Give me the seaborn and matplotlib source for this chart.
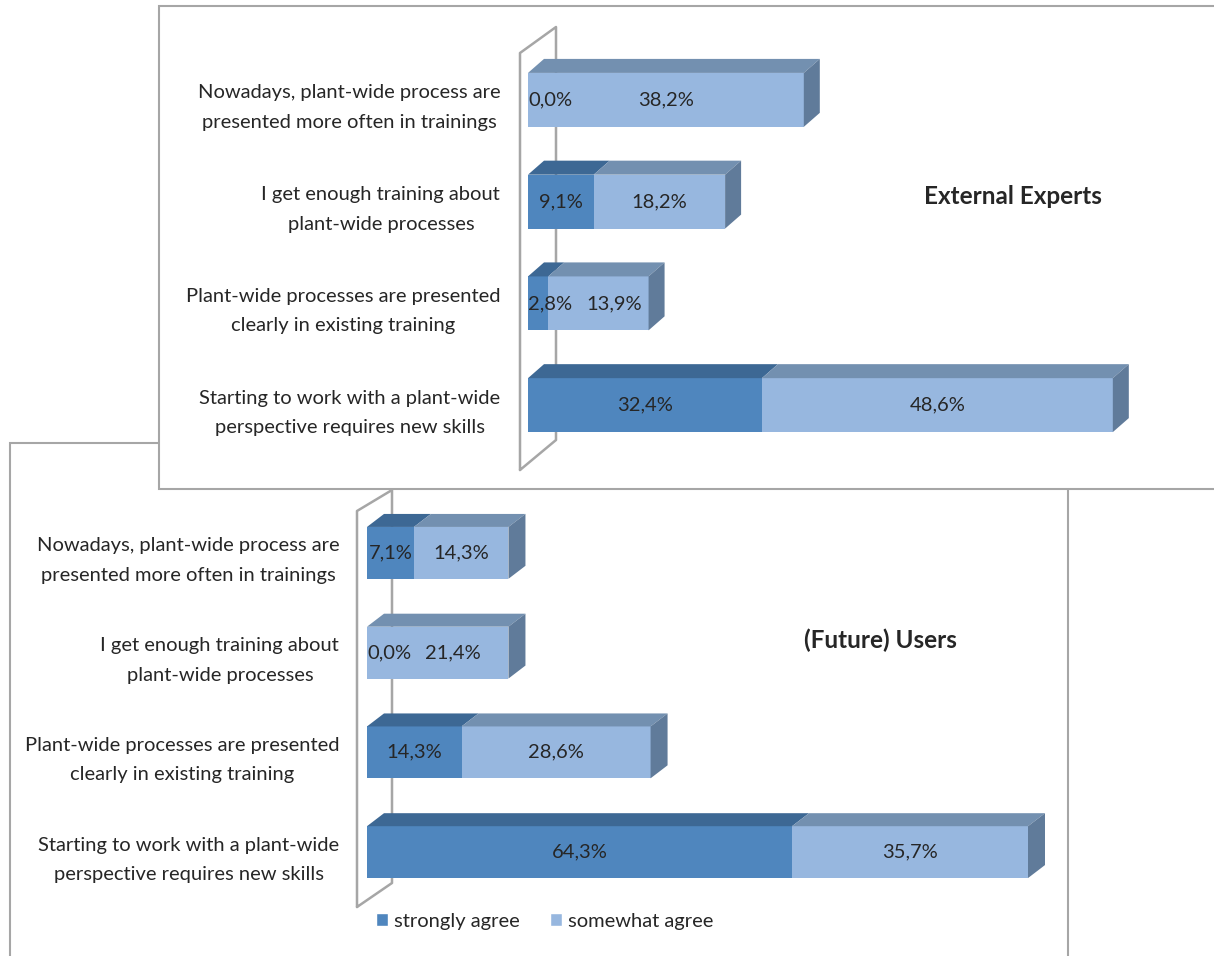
import matplotlib
matplotlib.use("Agg")
import matplotlib.pyplot as plt
from matplotlib.patches import Polygon, Rectangle, Patch
from matplotlib.lines import Line2D
import seaborn as sns
import pandas as pd

statements = [
    "Nowadays, plant-wide process are\npresented more often in trainings",
    "I get enough training about\nplant-wide processes",
    "Plant-wide processes are presented\nclearly in existing training",
    "Starting to work with a plant-wide\nperspective requires new skills",
]
experts_strong = [0.0, 9.1, 2.8, 32.4]
experts_somewhat = [38.2, 18.2, 13.9, 48.6]
users_strong = [7.1, 0.0, 14.3, 64.3]
users_somewhat = [14.3, 21.4, 28.6, 35.7]
series_names = ["strongly agree", "somewhat agree"]

# colours (front / top / side)
dark_front, dark_top = "#4F86BE", "#3D6894"
light_front, light_top, light_side = "#97B7DF", "#7390B0", "#607B9A"
frame_col = "#A6A6A6"

W, H = 1214, 956
sns.set_style("white")
plt.rcParams["font.family"] = ["Lato", "DejaVu Sans"]
LABEL_FS = 14.5
fig = plt.figure(figsize=(W / 100, H / 100), dpi=100)


def px_box(x0, y0, x1, y1):
    return [x0 / W, 1 - y1 / H, (x1 - x0) / W, (y1 - y0) / H]


def fig_pt(x, y):
    return x / W, 1 - y / H


def shift(ax, x, y, dx, dy):
    px, py = ax.transData.transform((x, y))
    return tuple(ax.transData.inverted().transform((px + dx, py + dy)))


def fmt(v):
    return f"{v:.1f}%".replace(".", ",")


def draw_panel(ax, strong, somewhat, xmax, bar_w, dx, dy):
    df = pd.DataFrame({
        "statement": statements,
        "strong": strong,
        "total": [a + b for a, b in zip(strong, somewhat)],
    })
    sns.barplot(data=df, y="statement", x="total", color=light_front,
                saturation=1, width=bar_w, ax=ax, edgecolor="none")
    sns.barplot(data=df, y="statement", x="strong", color=dark_front,
                saturation=1, width=bar_w, ax=ax, edgecolor="none")
    ax.set_xlim(0, xmax)
    ax.set_ylim(3.5, -0.5)
    ax.set_xlabel("")
    ax.set_ylabel("")
    ax.set_xticks([])
    ax.set_facecolor("none")
    sns.despine(ax=ax, left=True, bottom=True)
    ax.tick_params(axis="y", length=0, pad=20, labelsize=LABEL_FS)
    for lbl in ax.get_yticklabels():
        lbl.set_multialignment("center")
        lbl.set_linespacing(1.9)

    for i, (s, t) in enumerate(zip(strong, somewhat)):
        yt, yb = i - bar_w / 2, i + bar_w / 2
        segs = [(0, s, dark_top), (s, s + t, light_top)]
        for a, b, col in segs:
            if b - a <= 0:
                continue
            ax.add_patch(Polygon([(a, yt), (b, yt), shift(ax, b, yt, dx, dy),
                                  shift(ax, a, yt, dx, dy)],
                                 closed=True, facecolor=col, edgecolor="none",
                                 clip_on=False))
        end = s + t
        ax.add_patch(Polygon([(end, yt), shift(ax, end, yt, dx, dy),
                              shift(ax, end, yb, dx, dy), (end, yb)],
                             closed=True, facecolor=light_side, edgecolor="none",
                             clip_on=False))
        # value labels, nudged right when a segment is too narrow
        x_strong = max(s / 2, shift(ax, 0, i, 22, 0)[0])
        x_some = max(s + t / 2, shift(ax, x_strong, i, 64, 0)[0])
        ax.text(x_strong, i, fmt(s), ha="center", va="center", fontsize=LABEL_FS)
        ax.text(x_some, i, fmt(t), ha="center", va="center", fontsize=LABEL_FS)


# panel frames
fig.add_artist(Rectangle(fig_pt(10, 966), 1058 / W, 523 / H, transform=fig.transFigure,
                         facecolor="white", edgecolor=frame_col, lw=1.5, zorder=-3))
fig.add_artist(Rectangle(fig_pt(159, 489), 1070 / W, 483 / H, transform=fig.transFigure,
                         facecolor="white", edgecolor=frame_col, lw=1.5, zorder=-2))

# back walls
walls = [
    [(520, 470), (520, 53), (556, 27), (556, 440), (520, 470)],
    [(357, 907), (357, 511), (392, 490), (392, 883), (357, 907)],
]
for pts in walls:
    xs, ys = zip(*[fig_pt(x, y) for x, y in pts])
    fig.add_artist(Line2D(xs, ys, transform=fig.transFigure, color=frame_col,
                          lw=1.8, zorder=-1))

ax_top = fig.add_axes(px_box(528, 49, 1214, 456))
draw_panel(ax_top, experts_strong, experts_somewhat, 686 / 7.22, 0.53, 16, 14)

ax_bot = fig.add_axes(px_box(367, 503, 1068, 902))
draw_panel(ax_bot, users_strong, users_somewhat, 701 / 6.61, 0.52, 17, 13)

fig.text(*fig_pt(1013, 197), "External Experts", ha="center", va="center",
         fontsize=17.5, fontweight="bold")
fig.text(*fig_pt(880, 640), "(Future) Users", ha="center", va="center",
         fontsize=17.5, fontweight="bold")

handles = [Patch(facecolor=dark_front, label=series_names[0]),
           Patch(facecolor=light_front, label=series_names[1])]
fig.legend(handles=handles, loc="center", bbox_to_anchor=fig_pt(545, 921), ncol=2,
           frameon=False, fontsize=LABEL_FS, handlelength=0.6, handleheight=0.6,
           handletextpad=0.3, columnspacing=1.5)

fig.savefig("out.png", dpi=100)
